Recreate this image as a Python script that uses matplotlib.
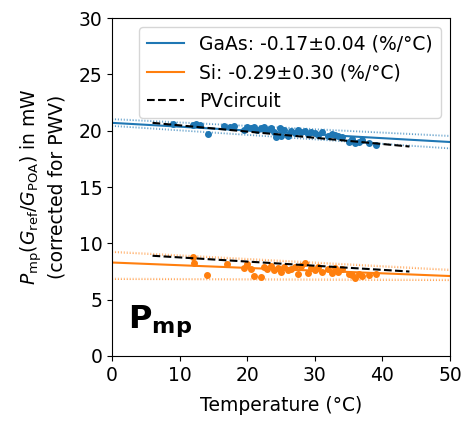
import matplotlib
matplotlib.use("Agg")
import matplotlib.pyplot as plt
import numpy as np

# measured points (temperature in degC, power in mW)
gaasT = [9.0, 12.0, 12.5, 13.0, 14.2, 16.5, 17.5, 18.0, 19.5, 20.0, 20.5, 21.0, 21.5, 22.0,
         22.5, 23.0, 23.5, 24.0, 24.3, 24.8, 25.0, 25.5, 26.0, 26.5, 27.0, 27.5, 28.0,
         28.5, 29.0, 29.5, 30.0, 30.5, 31.0, 32.0, 32.5, 33.0, 33.5, 34.0, 35.0, 35.5,
         36.0, 36.5, 37.0, 38.0, 39.0]
gaasP = [20.6, 20.5, 20.6, 20.5, 19.7, 20.4, 20.3, 20.4, 20.1, 20.3, 20.2, 20.3, 20.1, 20.2,
         20.3, 20.1, 20.2, 19.9, 19.4, 20.2, 19.5, 20.1, 19.5, 20.0, 19.8, 20.1, 19.9,
         20.0, 19.7, 19.9, 19.8, 19.6, 19.9, 19.5, 19.7, 19.6, 19.5, 19.4, 19.0, 19.3,
         18.9, 19.0, 19.2, 18.9, 18.7]
siT = [12.0, 12.2, 14.0, 17.0, 19.5, 20.0, 20.5, 21.0, 22.0, 22.5, 23.0, 23.5, 24.0, 24.5,
       25.0, 25.5, 26.0, 26.5, 27.0, 27.5, 28.0, 28.5, 29.0, 29.5, 30.0, 30.5, 31.0,
       32.0, 32.5, 33.0, 33.5, 34.0, 35.0, 35.5, 36.0, 36.5, 37.0, 38.0, 39.0]
siP = [8.8, 8.3, 7.2, 8.2, 7.8, 8.2, 7.7, 7.1, 7.0, 7.9, 7.7, 8.0, 7.6, 7.8,
       7.5, 7.9, 7.6, 7.7, 7.9, 7.3, 8.0, 8.3, 7.4, 7.8, 7.6, 7.9, 7.5,
       7.7, 7.4, 7.8, 7.5, 7.7, 7.3, 7.2, 6.9, 7.3, 7.1, 7.2, 7.3]

# fitted lines and confidence bands, at T = 0 and T = 50
fitT = [0, 50]
gaasFit = [20.7, 19.0]
gaasLow = [20.4, 18.4]
gaasHigh = [21.0, 19.5]
siFit = [8.3, 7.1]
siLow = [6.8, 6.7]
siHigh = [9.2, 7.6]

# PVcircuit model
pvcT = [6, 44]
pvcGaas = [20.7, 18.6]
pvcSi = [8.9, 7.5]

blue = "#1f77b4"
orange = "#ff7f0e"
fs = 13.5

fig = plt.figure(figsize=(4.62, 4.21), dpi=100)
ax = fig.add_axes([0.2424, 0.1544, 0.7316, 0.8026])

ax.scatter(gaasT, gaasP, s=16, color=blue, zorder=2)
ax.scatter(siT, siP, s=16, color=orange, zorder=2)

ax.plot(fitT, gaasFit, color=blue, lw=1.5, label="GaAs: -0.17±0.04 (%/°C)")
ax.plot(fitT, siFit, color=orange, lw=1.5, label="Si: -0.29±0.30 (%/°C)")
for band in [gaasLow, gaasHigh]:
    ax.plot(fitT, band, color=blue, lw=0.8, linestyle=":", alpha=0.7)
    ax.plot(fitT, np.array(band) + 0.08, color=blue, lw=0.8, linestyle=":", alpha=0.5)
for band in [siLow, siHigh]:
    ax.plot(fitT, band, color=orange, lw=0.8, linestyle=":", alpha=0.7)
    ax.plot(fitT, np.array(band) + 0.1, color=orange, lw=0.8, linestyle=":", alpha=0.5)

ax.plot(pvcT, pvcGaas, color="black", linestyle="--", lw=1.5, label="PVcircuit", zorder=3)
ax.plot(pvcT, pvcSi, color="black", linestyle="--", lw=1.5, zorder=3)

ax.text(2.3, 2.5, r"$\mathbf{P_{mp}}$", fontsize=23)

ax.set_xlim(0, 50)
ax.set_ylim(0, 30)
ax.set_xticks([0, 10, 20, 30, 40, 50])
ax.set_yticks([0, 5, 10, 15, 20, 25, 30])
ax.tick_params(labelsize=fs)
ax.set_xlabel("Temperature (°C)", fontsize=fs, labelpad=8)
ax.set_ylabel("$P_{\\mathrm{mp}}(G_{\\mathrm{ref}}/G_{\\mathrm{POA}})$ in mW\n(corrected for PWV)",
              fontsize=fs, labelpad=9)
ax.legend(loc="upper right", fontsize=fs)

fig.savefig("out.png", dpi=100)
